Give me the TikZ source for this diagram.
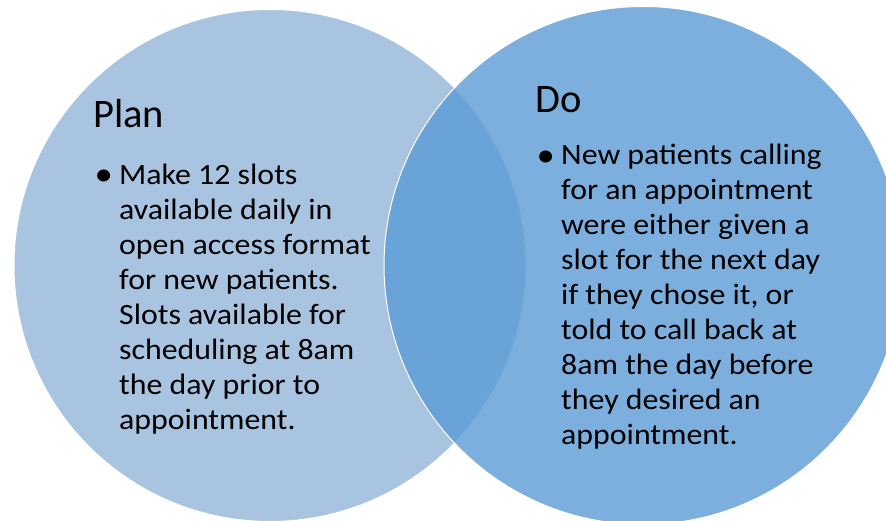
\documentclass[tikz,border=0pt]{standalone}
\usepackage{fontspec}
\setmainfont{Carlito}
\newfontfamily\bodyfont[FakeStretch=1.08]{Carlito}
\definecolor{plancol}{RGB}{168,196,224}
\definecolor{docol}{RGB}{91,155,213}
\tikzset{
  vennplan/.style={circle, inner sep=0pt, fill=plancol, draw=white, line width=1pt},
  venndo/.style={circle, inner sep=0pt, fill=docol, fill opacity=0.8, draw=white, draw opacity=1, line width=1pt},
  titletext/.style={anchor=base west, inner sep=0pt, font=\fontsize{40.5}{48}\selectfont, text=black},
  bodytext/.style={anchor=base west, inner sep=0pt, text=black},
}
\newcommand{\bulletpar}[2]{\bodyfont\fontsize{29.5}{35}\selectfont\makebox[23pt][l]{\hspace*{-1.5pt}\raisebox{-1.5pt}{\scalebox{1.15}{\textbullet}}}\parbox[t]{#1}{\bodyfont\fontsize{29.5}{35}\selectfont\raggedright #2}}
\begin{document}
\begin{tikzpicture}[x=1pt,y=-1pt]
\useasboundingbox (0,0) rectangle (886,521);
\node[vennplan, minimum size=512pt] (plancirc) at (270,265.5) {};
\node[venndo, minimum size=518pt] (docirc) at (643,265.5) {};
\node[titletext] (plantitle) at (93,128) {Plan};
\node[titletext] (dotitle) at (535,113) {Do};
\node[bodytext] (plantext) at (96,184.5) {\bulletpar{300pt}{Make 12 slots\\ available daily in\\ open access format\\ for new patients.\\ Slots available for\\ scheduling at 8am\\ the day prior to\\ appointment.}};
\node[bodytext] (dotext) at (538,165) {\bulletpar{330pt}{New patients calling\\ for an appointment\\ were either given a\\ slot for the next day\\ if they chose it, or\\ told to call back at\\ 8am the day before\\ they desired an\\ appointment.}};
\end{tikzpicture}
\end{document}
